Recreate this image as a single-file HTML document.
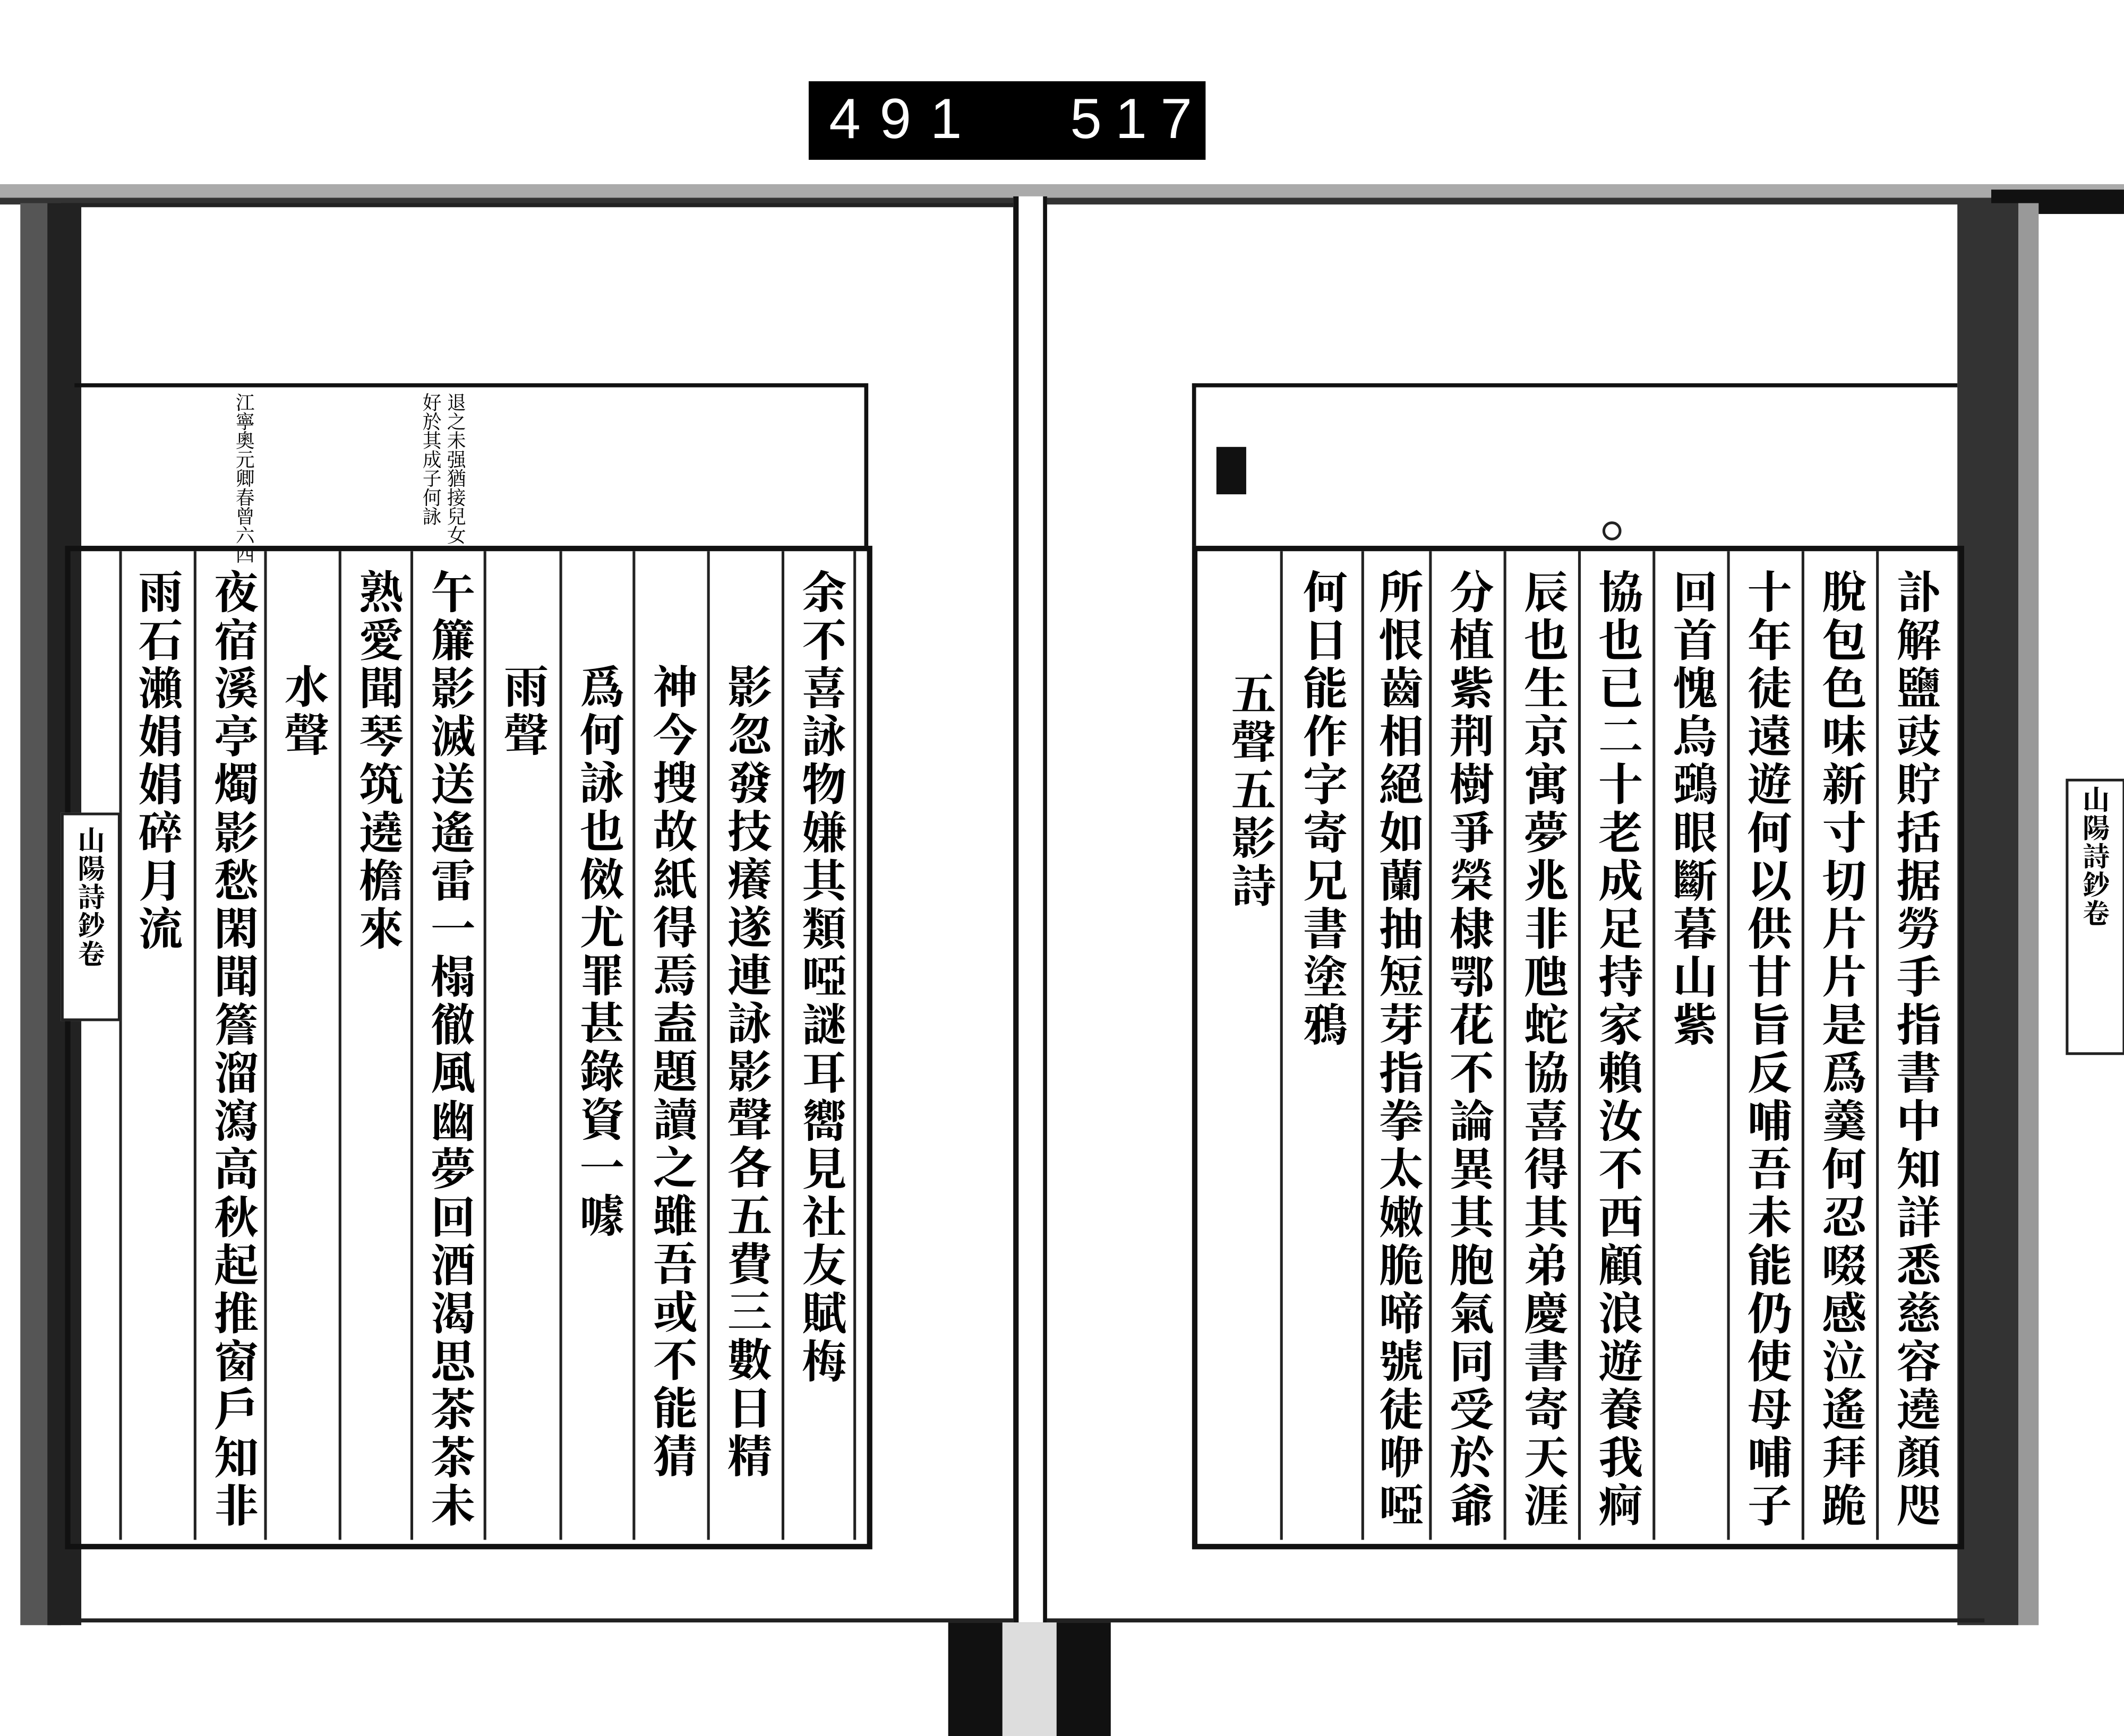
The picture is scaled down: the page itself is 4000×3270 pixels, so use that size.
<!DOCTYPE html>
<html><head><meta charset="utf-8"><style>
html,body{margin:0;padding:0;background:#fff;}
body{width:4000px;height:3269px;overflow:hidden;position:relative;}
#w{position:absolute;left:0;top:0;width:1568px;height:1282px;transform:scale(2.551);transform-origin:0 0;}
.a{position:absolute;}
.c{position:absolute;writing-mode:vertical-rl;font-family:"Liberation Serif","Noto Serif CJK SC","Noto Sans CJK TC",serif;font-size:33px;font-weight:bold;line-height:1;letter-spacing:2.5px;color:#000;white-space:nowrap;}
.vl{position:absolute;width:2px;background:#222;}
</style></head><body><div id="w">
<div class="a" style="left:597px;top:60px;width:293px;height:58px;background:#000;"></div>
<div class="a" style="left:612px;top:64px;font:42px 'Liberation Sans',sans-serif;color:#fff;letter-spacing:14px;">491</div>
<div class="a" style="left:790px;top:64px;font:42px 'Liberation Sans',sans-serif;color:#fff;letter-spacing:10px;">517</div>
<div class="a" style="left:0;top:136px;width:1568px;height:10px;background:#aaa;"></div>
<div class="a" style="left:0;top:146px;width:1568px;height:5px;background:#333;"></div>
<div class="a" style="left:1470px;top:140px;width:98px;height:18px;background:#111;"></div>
<div class="a" style="left:15px;top:150px;width:30px;height:1050px;background:#555;"></div>
<div class="a" style="left:35px;top:150px;width:25px;height:1050px;background:#222;"></div>
<div class="a" style="left:45px;top:150px;width:705px;height:3px;background:#222;"></div>
<div class="a" style="left:45px;top:1195px;width:705px;height:3px;background:#222;"></div>
<div class="a" style="left:1445px;top:150px;width:45px;height:1050px;background:#333;"></div>
<div class="a" style="left:1490px;top:150px;width:15px;height:1050px;background:#999;"></div>
<div class="a" style="left:765px;top:1195px;width:700px;height:3px;background:#222;"></div>
<div class="a" style="left:748px;top:145px;width:18px;height:1055px;background:#fff;border-left:4px solid #111;border-right:3px solid #111;"></div>
<div class="a" style="left:700px;top:1198px;width:120px;height:84px;background:#111;"></div>
<div class="a" style="left:740px;top:1198px;width:40px;height:84px;background:#ddd;"></div>
<div class="a" style="left:55px;top:283px;width:585px;height:3px;background:#111;"></div>
<div class="a" style="left:638px;top:283px;width:3px;height:120px;background:#111;"></div>
<div class="c" style="left:172px;top:290px;font-size:14px;letter-spacing:0;font-weight:normal;">江寧奧元卿春曾六四</div>
<div class="c" style="left:310px;top:290px;font-size:14px;letter-spacing:0;font-weight:normal;">好於其成子何詠</div>
<div class="c" style="left:328px;top:290px;font-size:14px;letter-spacing:0;font-weight:normal;">退之未强猶接兒女</div>
<div class="a" style="left:48px;top:403px;width:588px;height:733px;border:4px solid #111;"></div>
<div class="vl" style="left:88px;top:407px;height:730px"></div>
<div class="vl" style="left:143px;top:407px;height:730px"></div>
<div class="vl" style="left:195px;top:407px;height:730px"></div>
<div class="vl" style="left:250px;top:407px;height:730px"></div>
<div class="vl" style="left:303px;top:407px;height:730px"></div>
<div class="vl" style="left:357px;top:407px;height:730px"></div>
<div class="vl" style="left:413px;top:407px;height:730px"></div>
<div class="vl" style="left:467px;top:407px;height:730px"></div>
<div class="vl" style="left:522px;top:407px;height:730px"></div>
<div class="vl" style="left:577px;top:407px;height:730px"></div>
<div class="vl" style="left:630px;top:407px;height:730px"></div>
<div class="c" style="left:588px;top:420px;">余不喜詠物嫌其類啞謎耳嚮見社友賦梅</div>
<div class="c" style="left:533px;top:490px;">影忽發技癢遂連詠影聲各五費三數日精</div>
<div class="c" style="left:478px;top:490px;">神今搜故紙得焉盍題讀之雖吾或不能猜</div>
<div class="c" style="left:424px;top:490px;">爲何詠也傚尤罪甚錄資一噱</div>
<div class="c" style="left:368px;top:490px;">雨聲</div>
<div class="c" style="left:314px;top:420px;">午簾影滅送遙雷一榻徹風幽夢回酒渴思茶茶未</div>
<div class="c" style="left:261px;top:420px;">熟愛聞琴筑遶檐來</div>
<div class="c" style="left:206px;top:490px;">水聲</div>
<div class="c" style="left:154px;top:420px;">夜宿溪亭燭影愁閑聞簷溜瀉高秋起推窗戶知非</div>
<div class="c" style="left:98px;top:420px;">雨石瀨娟娟碎月流</div>
<div class="a" style="left:45px;top:600px;width:40px;height:150px;background:#fff;border:2px solid #222;"></div>
<div class="c" style="left:55px;top:610px;font-size:20px;letter-spacing:1px;">山陽詩鈔卷</div>
<div class="a" style="left:880px;top:283px;width:565px;height:3px;background:#111;"></div>
<div class="a" style="left:880px;top:283px;width:3px;height:120px;background:#111;"></div>
<div class="a" style="left:898px;top:330px;width:22px;height:35px;background:#111;"></div>
<div class="a" style="left:1183px;top:385px;width:10px;height:10px;border:2px solid #222;border-radius:50%;"></div>
<div class="a" style="left:880px;top:403px;width:562px;height:733px;border:4px solid #111;"></div>
<div class="vl" style="left:945px;top:407px;height:730px"></div>
<div class="vl" style="left:1005px;top:407px;height:730px"></div>
<div class="vl" style="left:1055px;top:407px;height:730px"></div>
<div class="vl" style="left:1110px;top:407px;height:730px"></div>
<div class="vl" style="left:1165px;top:407px;height:730px"></div>
<div class="vl" style="left:1220px;top:407px;height:730px"></div>
<div class="vl" style="left:1275px;top:407px;height:730px"></div>
<div class="vl" style="left:1330px;top:407px;height:730px"></div>
<div class="vl" style="left:1385px;top:407px;height:730px"></div>
<div class="c" style="left:1396px;top:420px;">訃解鹽豉貯括据勞手指書中知詳悉慈容遶顏咫</div>
<div class="c" style="left:1341px;top:420px;">脫包色味新寸切片片是爲羹何忍啜感泣遙拜跪</div>
<div class="c" style="left:1286px;top:420px;">十年徒遠遊何以供甘旨反哺吾未能仍使母哺子</div>
<div class="c" style="left:1231px;top:420px;">回首愧烏鵶眼斷暮山紫</div>
<div class="c" style="left:1176px;top:420px;">協也已二十老成足持家賴汝不西顧浪遊養我痾</div>
<div class="c" style="left:1121px;top:420px;">辰也生京寓夢兆非虺蛇協喜得其弟慶書寄天涯</div>
<div class="c" style="left:1066px;top:420px;">分植紫荆樹爭榮棣鄂花不論異其胞氣同受於爺</div>
<div class="c" style="left:1014px;top:420px;">所恨齒相絕如蘭抽短芽指拳太嫩脆啼號徒咿啞</div>
<div class="c" style="left:958px;top:420px;">何日能作字寄兄書塗鴉</div>
<div class="c" style="left:905px;top:495px;">五聲五影詩</div>
<div class="a" style="left:1525px;top:575px;width:40px;height:200px;background:#fff;border:2px solid #222;"></div>
<div class="c" style="left:1535px;top:580px;font-size:20px;letter-spacing:1px;">山陽詩鈔卷</div>
</div></body></html>
